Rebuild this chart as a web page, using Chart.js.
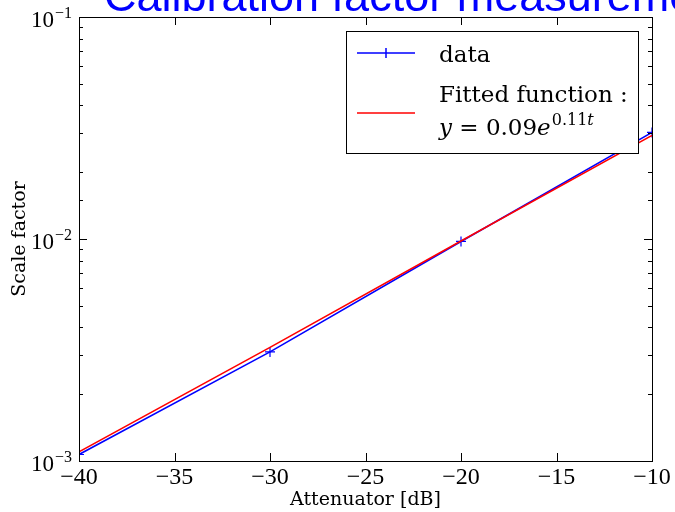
<!DOCTYPE html>
<html>
<head>
<meta charset="utf-8">
<script src="https://cdn.jsdelivr.net/npm/chart.js@4.4.1/dist/chart.umd.min.js"></script>
<style>
  html, body { margin: 0; padding: 0; background: #fff; }
  #wrap { width: 675px; height: 512px; }
</style>
</head>
<body>
<div id="wrap"><canvas id="grafico-calibrazione" width="675" height="512"></canvas></div>
<script>
// values
const attenuatore = [-40, -30, -20, -10];
const fattoreMisurato = [1.07e-3, 3.1e-3, 9.75e-3, 3.02e-2];
const fattoreFit = [1.1e-3, 3.25e-3, 9.8e-3, 2.93e-2];
const xTickValues = [-40, -35, -30, -25, -20, -15, -10];
const yDecadi = [-3, -2, -1];

const titolo = "Calibration factor measurement";
const labelDati = "data";
const labelFit = ["Fitted function :", "y = 0.09e^0.11t"];

const serif = '"DejaVu Serif", "Liberation Serif", serif';
const serifTick = '"Liberation Serif", "DejaVu Serif", serif';

function meno(v) {
  return (v < 0 ? "\u2212" : "") + Math.abs(v);
}

const decorazioni = {
  id: "decorazioni",
  afterDraw(chart) {
    const ctx = chart.ctx;
    const ca = chart.chartArea;
    const xs = chart.scales.x;
    const ys = chart.scales.y;
    ctx.save();

    // bordo del grafico
    ctx.strokeStyle = "#000";
    ctx.lineWidth = 1;
    ctx.strokeRect(Math.round(ca.left) + 0.5, Math.round(ca.top) + 0.5,
      Math.round(ca.right - ca.left), Math.round(ca.bottom - ca.top));

    // tacche verso l'interno
    ctx.beginPath();
    xs.ticks.forEach(t => {
      const px = Math.round(xs.getPixelForValue(t.value)) + 0.5;
      ctx.moveTo(px, ca.bottom); ctx.lineTo(px, ca.bottom - 8);
      ctx.moveTo(px, ca.top); ctx.lineTo(px, ca.top + 8);
    });
    ys.ticks.forEach(t => {
      const e = Math.log10(t.value);
      const major = Math.abs(e - Math.round(e)) < 1e-6;
      const len = major ? 8 : 4;
      const py = Math.round(ys.getPixelForValue(t.value)) + 0.5;
      ctx.moveTo(ca.left, py); ctx.lineTo(ca.left + len, py);
      ctx.moveTo(ca.right, py); ctx.lineTo(ca.right - len, py);
    });
    ctx.stroke();

    // etichette asse y con esponente
    ctx.fillStyle = "#000";
    ctx.textBaseline = "alphabetic";
    yDecadi.forEach(d => {
      const py = ys.getPixelForValue(Math.pow(10, d));
      ctx.font = "16px " + serifTick;
      const esp = meno(d);
      const wEsp = ctx.measureText(esp).width;
      const xEnd = ca.left - 7;
      ctx.textAlign = "left";
      ctx.fillText(esp, xEnd - wEsp, py + 1);
      ctx.font = "23px " + serifTick;
      ctx.textAlign = "right";
      ctx.fillText("10", xEnd - wEsp - 1, py + 10);
    });

    // legenda
    const bw = 292, bh = 122;
    const bx = ca.right - 14 - bw;
    const by = ca.top + 14;
    ctx.fillStyle = "#fff";
    ctx.fillRect(bx, by, bw, bh);
    ctx.strokeStyle = "#000";
    ctx.strokeRect(Math.round(bx) + 0.5, Math.round(by) + 0.5, bw, bh);

    const ds = chart.data.datasets;
    const lx0 = bx + 11, lx1 = bx + 69, tx = bx + 93;
    // voce dati
    let ly = by + 22;
    ctx.strokeStyle = ds[1].borderColor;
    ctx.lineWidth = 1.5;
    ctx.beginPath();
    ctx.moveTo(lx0, ly); ctx.lineTo(lx1, ly);
    const mx = (lx0 + lx1) / 2;
    ctx.moveTo(mx, ly - 5); ctx.lineTo(mx, ly + 5);
    ctx.stroke();
    ctx.fillStyle = "#000";
    ctx.font = "23px " + serif;
    ctx.textAlign = "left";
    ctx.fillText(ds[1].label, tx, ly + 9);

    // voce fit
    ly = by + 82;
    ctx.strokeStyle = ds[0].borderColor;
    ctx.beginPath();
    ctx.moveTo(lx0, ly); ctx.lineTo(lx1, ly);
    ctx.stroke();
    ctx.fillText(labelFit[0], tx, by + 71);

    // y = 0.09 e^{0.11 t}
    let cx = tx;
    const bl = by + 104;
    const pezzi = [
      ["italic 23px " + serif, "y", 0],
      ["23px " + serif, " = 0.09", 0],
      ["italic 23px " + serif, "e", 0],
      ["16px " + serif, "0.11", -10],
      ["italic 16px " + serif, "t", -10]
    ];
    pezzi.forEach(p => {
      ctx.font = p[0];
      ctx.fillText(p[1], cx, bl + p[2]);
      cx += ctx.measureText(p[1]).width + (p[1] === "e" ? 1 : 0);
    });

    // titolo tagliato in alto
    ctx.fillStyle = "#0000ff";
    ctx.font = '45px "Liberation Sans", Arial, sans-serif';
    ctx.textAlign = "left";
    ctx.fillText(titolo, 104, 11);

    ctx.restore();
  }
};

function renderGrafico() {
  const ctx = document.getElementById("grafico-calibrazione").getContext("2d");

  const puntiDati = attenuatore.map((a, i) => ({ x: a, y: fattoreMisurato[i] }));
  const puntiFit = attenuatore.map((a, i) => ({ x: a, y: fattoreFit[i] }));

  new Chart(ctx, {
    type: "line",
    data: {
      datasets: [{
        label: labelFit.join(" "),
        data: puntiFit,
        borderColor: "#ff0000",
        backgroundColor: "#ff0000",
        borderWidth: 1.6,
        pointRadius: 0,
        order: 0
      }, {
        label: labelDati,
        data: puntiDati,
        borderColor: "#0000ff",
        backgroundColor: "#0000ff",
        borderWidth: 1.6,
        pointStyle: "cross",
        pointRadius: 5,
        pointBorderWidth: 1.2,
        order: 1
      }]
    },
    options: {
      responsive: false,
      animation: false,
      layout: { padding: { top: 17, right: 23, left: 0, bottom: 0 } },
      plugins: {
        legend: { display: false },
        tooltip: { enabled: false }
      },
      scales: {
        x: {
          type: "linear",
          min: -40,
          max: -10,
          afterBuildTicks: scale => {
            scale.ticks = xTickValues.map(v => ({ value: v }));
          },
          afterFit: scale => { scale.height = 51; },
          grid: { display: false, drawTicks: false },
          border: { display: false },
          ticks: {
            padding: 2,
            color: "#000",
            font: { family: serifTick, size: 24 },
            callback: v => meno(v)
          },
          title: {
            display: true,
            text: "Attenuator [dB]",
            color: "#000",
            font: { family: serif, size: 19 },
            padding: { top: 0, bottom: 1 }
          }
        },
        y: {
          type: "logarithmic",
          min: 1e-3,
          max: 1e-1,
          afterFit: scale => { scale.width = 79; },
          grid: { display: false, drawTicks: false },
          border: { display: false },
          ticks: {
            autoSkip: false,
            display: false
          },
          title: {
            display: true,
            text: "Scale factor",
            color: "#000",
            font: { family: serif, size: 19 },
            padding: { top: 9, bottom: 0 }
          }
        }
      }
    },
    plugins: [decorazioni]
  });
}

renderGrafico();
</script>
</body>
</html>
